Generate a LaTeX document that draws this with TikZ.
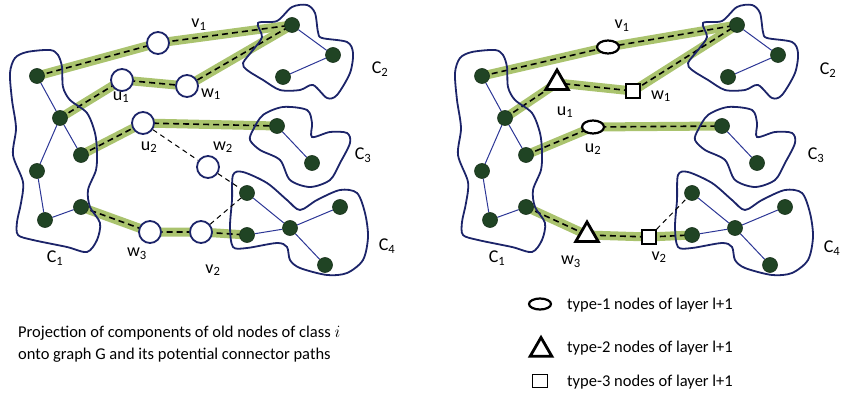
\documentclass[tikz,border=0pt]{standalone}
\usepackage{fontspec}
\setmainfont{Carlito}
\usetikzlibrary{shapes.geometric}
\pgfdeclarelayer{bands}
\pgfdeclarelayer{outline}
\pgfsetlayers{bands,outline,main}

\definecolor{bandgreen}{RGB}{170,195,110}
\definecolor{dotgreen}{RGB}{32,68,36}
\definecolor{edgeblue}{RGB}{45,55,150}
\definecolor{blobblue}{RGB}{28,36,105}

\tikzset{
  dot/.style={circle,fill=dotgreen,draw=dotgreen!70!black,line width=0.6pt,minimum size=15pt,inner sep=0pt},
  relay/.style={circle,fill=white,draw=blobblue,line width=1.8pt,minimum size=22pt,inner sep=0pt},
  typeone/.style={ellipse,fill=white,draw=black,line width=2.2pt,minimum width=22pt,minimum height=13pt,inner sep=0pt},
  typetwo/.style={regular polygon,regular polygon sides=3,fill=white,draw=black,line width=2.8pt,minimum size=26pt,inner sep=0pt},
  typethree/.style={rectangle,fill=white,draw=black,line width=1.6pt,minimum size=14pt,inner sep=0pt},
  band/.style={line width=9pt,draw=bandgreen,line join=round},
  bandline/.style={line width=1.6pt,dash pattern=on 6pt off 4pt,draw=black},
  thinlink/.style={line width=1pt,dash pattern=on 5pt off 4pt,draw=black},
  tree/.style={line width=1pt,draw=edgeblue},
  blob/.style={line width=1.8pt,draw=blobblue},
  lbl/.style={font=\fontsize{18}{20}\selectfont,inner sep=0pt},
  txt/.style={font=\fontsize{16.5}{20}\selectfont,inner sep=0pt},
}

% Components C1..C4 of old nodes: dots, tree edges and enclosing outlines.
% #1 = name prefix, #2 = horizontal offset of the panel
\newcommand\basegraph[2]{%
\begin{scope}[xshift=#2]
  \node[dot] (#1a1) at (37,76) {};
  \node[dot] (#1a2) at (60,118) {};
  \node[dot] (#1a3) at (81,155) {};
  \node[dot] (#1a4) at (37,171) {};
  \node[dot] (#1a5) at (45,220) {};
  \node[dot] (#1a6) at (81,207) {};
  \node[dot] (#1b1) at (292,25) {};
  \node[dot] (#1b2) at (333,55) {};
  \node[dot] (#1b3) at (283,77) {};
  \node[dot] (#1c1) at (277,126) {};
  \node[dot] (#1c2) at (312,163) {};
  \node[dot] (#1d1) at (247,193) {};
  \node[dot] (#1d2) at (247,235) {};
  \node[dot] (#1d3) at (290,228) {};
  \node[dot] (#1d4) at (340,207) {};
  \node[dot] (#1d5) at (325,265) {};
  \begin{pgfonlayer}{outline}
    \draw[tree] (#1a1) -- (#1a2) -- (#1a3);
    \draw[tree] (#1a2) -- (#1a4) -- (#1a5) -- (#1a6);
    \draw[tree] (#1b1) -- (#1b2) -- (#1b3);
    \draw[tree] (#1c1) -- (#1c2);
    \draw[tree] (#1d1) -- (#1d3) -- (#1d4);
    \draw[tree] (#1d2) -- (#1d3) -- (#1d5);
    \draw[blob] plot[smooth cycle] coordinates {(10,73) (15,58) (27,52) (50,50) (58,55) (62,67) (63,87)
      (70,100) (87,113) (95,133) (97,152) (96,170) (88,190) (90,207) (100,223) (97,240) (87,252)
      (67,247) (33,240) (18,235) (17,222) (21,203) (23,182) (13,155) (16,128) (12,100)};
    \draw[blob] plot[smooth cycle] coordinates {(258,23) (277,21) (292,7) (307,5) (315,13) (318,32)
      (322,38) (347,42) (353,53) (350,73) (337,95) (327,98) (313,85) (300,90) (280,90) (263,80)
      (247,70) (243,63) (253,50) (262,37)};
    \draw[blob] plot[smooth cycle] coordinates {(253,130) (263,115) (283,107) (307,110) (312,123)
      (312,137) (330,132) (347,133) (350,143) (340,163) (330,180) (310,187) (290,180) (280,160)
      (260,150) (250,140)};
    \draw[blob] plot[smooth cycle] coordinates {(233,175) (243,172) (267,183) (287,200) (300,210)
      (317,200) (340,190) (357,193) (365,213) (368,237) (363,260) (347,273) (327,275) (300,268)
      (290,260) (287,247) (277,243) (247,248) (233,247) (230,227) (232,200)};
  \end{pgfonlayer}
\end{scope}}

\begin{document}
\begin{tikzpicture}[x=1pt,y=-1pt]
\useasboundingbox (0,0) rectangle (843,398);

% ---------- left panel: projection with candidate relay nodes ----------
\basegraph{L}{0pt}
\node[relay] (v1) at (158,43) {};
\node[relay] (u1) at (122,80) {};
\node[relay] (w1) at (187,86) {};
\node[relay] (u2) at (143,123) {};
\node[relay] (w2) at (208,167) {};
\node[relay] (w3) at (150,232) {};
\node[relay] (v2) at (201,232) {};

\begin{pgfonlayer}{bands}
  \draw[band] (La1.center) -- (v1.center) -- (Lb1.center);
  \draw[band] (La2.center) -- (u1.center) -- (w1.center) -- (Lb1.center);
  \draw[band] (La3.center) -- (u2.center) -- (Lc1.center);
  \draw[band] (La6.center) -- (w3.center) -- (v2.center) -- (Ld2.center);
  \draw[bandline] (La1.center) -- (v1.center) -- (Lb1.center);
  \draw[bandline] (La2.center) -- (u1.center) -- (w1.center) -- (Lb1.center);
  \draw[bandline] (La3.center) -- (u2.center) -- (Lc1.center);
  \draw[bandline] (La6.center) -- (w3.center) -- (v2.center) -- (Ld2.center);
\end{pgfonlayer}
\draw[thinlink] (u2) -- (w2);
\draw[thinlink] (w2) -- (Ld1);
\draw[thinlink] (v2) -- (Ld1);

\node[lbl] (lv1) at (199,25) {v\textsubscript{1}};
\node[lbl] (lu1) at (121,97) {u\textsubscript{1}};
\node[lbl] (lw1) at (211,94) {w\textsubscript{1}};
\node[lbl] (lu2) at (149,147) {u\textsubscript{2}};
\node[lbl] (lw2) at (223,147) {w\textsubscript{2}};
\node[lbl] (lw3) at (137,254) {w\textsubscript{3}};
\node[lbl] (lv2) at (213,270) {v\textsubscript{2}};
\node[lbl] (lC1) at (55,258) {C\textsubscript{1}};
\node[lbl] (lC2) at (380,69) {C\textsubscript{2}};
\node[lbl] (lC3) at (363,155) {C\textsubscript{3}};
\node[lbl] (lC4) at (387,246) {C\textsubscript{4}};

% ---------- right panel: typed nodes of layer l+1 ----------
\basegraph{R}{445pt}
\node[typeone]   (rv1) at (608,47) {};
\node[typetwo]   (ru1) at (557,83) {};
\node[typethree] (rw1) at (633,91) {};
\node[typeone]   (ru2) at (593,127) {};
\node[typetwo]   (rw3) at (587,235) {};
\node[typethree] (rv2) at (649,237) {};

\begin{pgfonlayer}{bands}
  \draw[band] (Ra1.center) -- (rv1.center) -- (Rb1.center);
  \draw[band] (Ra2.center) -- (ru1.center) -- (rw1.center) -- (Rb1.center);
  \draw[band] (Ra3.center) -- (ru2.center) -- (Rc1.center);
  \draw[band] (Ra6.center) -- (rw3.center) -- (rv2.center) -- (Rd2.center);
  \draw[bandline] (Ra1.center) -- (rv1.center) -- (Rb1.center);
  \draw[bandline] (Ra2.center) -- (ru1.center) -- (rw1.center) -- (Rb1.center);
  \draw[bandline] (Ra3.center) -- (ru2.center) -- (Rc1.center);
  \draw[bandline] (Ra6.center) -- (rw3.center) -- (rv2.center) -- (Rd2.center);
\end{pgfonlayer}
\draw[thinlink] (rv2) -- (Rd1);

\node[lbl] (rlv1) at (622,26) {v\textsubscript{1}};
\node[lbl] (rlu1) at (565,112) {u\textsubscript{1}};
\node[lbl] (rlw1) at (661,96) {w\textsubscript{1}};
\node[lbl] (rlu2) at (593,149) {u\textsubscript{2}};
\node[lbl] (rlw3) at (571,262) {w\textsubscript{3}};
\node[lbl] (rlv2) at (659,257) {v\textsubscript{2}};
\node[lbl] (rlC1) at (497,258) {C\textsubscript{1}};
\node[lbl] (rlC2) at (828,70) {C\textsubscript{2}};
\node[lbl] (rlC3) at (816,155) {C\textsubscript{3}};
\node[lbl] (rlC4) at (832,248) {C\textsubscript{4}};

% ---------- caption ----------
\node[txt,anchor=base west] (cap1) at (18,337) {Projection of components of old nodes of class $i$};
\node[txt,anchor=base west] (cap2) at (18,359) {onto graph G and its potential connector paths};

% ---------- legend ----------
\node[typeone,minimum height=11pt] (k1) at (540,304) {};
\node[typetwo,minimum size=25pt] (k2) at (541,350) {};
\node[typethree,minimum width=15pt,minimum height=13pt] (k3) at (540,381) {};
\node[txt,anchor=west] (t1) at (567,305) {type-1 nodes of layer l+1};
\node[txt,anchor=west] (t2) at (567,348) {type-2 nodes of layer l+1};
\node[txt,anchor=west] (t3) at (567,382) {type-3 nodes of layer l+1};
\end{tikzpicture}
\end{document}
